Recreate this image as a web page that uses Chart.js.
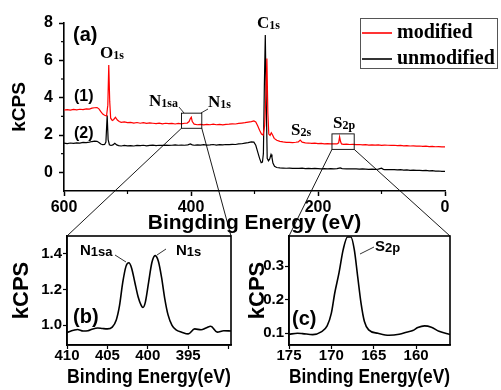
<!DOCTYPE html>
<html>
<head>
<meta charset="utf-8">
<script src="https://cdn.jsdelivr.net/npm/chart.js@4.4.0/dist/chart.umd.min.js"></script>
<style>
  html, body { margin: 0; padding: 0; background: #fff; }
  #wrap { position: relative; width: 501px; height: 390px; overflow: hidden; }
  canvas { position: absolute; }
</style>
</head>
<body>
<div id="wrap">
  <canvas id="main" width="501" height="390" style="left:0;top:0"></canvas>
  <canvas id="insetN" width="250" height="165" style="left:0;top:225px"></canvas>
  <canvas id="insetS" width="256" height="165" style="left:245px;top:225px"></canvas>
</div>
<script>
// survey spectrum, modified sample (1)
const modEnergy = [600, 595, 590, 585, 580, 575, 570, 565, 560, 556, 552, 548, 545, 542, 539, 536, 533, 531, 529.5, 528, 526.5,
  524, 522, 519, 516, 513, 510, 505, 500, 495, 490, 485, 480, 475, 470, 465, 460, 455, 450, 445, 440, 435, 430, 425, 420,
  415, 410, 406, 403, 401, 399.5, 398, 395, 390, 385, 380, 375, 370, 365, 360, 355, 350, 345, 340, 335, 330, 325, 320,
  315, 310, 305, 301, 298, 295, 292, 289, 286.5, 284, 282, 280.5, 279, 277.5, 275.5, 273.5, 271.5, 269, 265, 260, 255,
  250, 245, 240, 235, 231, 228, 225, 220, 215, 210, 205, 200, 195, 190, 185, 180, 175, 170, 167.5, 166, 164.5, 163, 160,
  155, 150, 145, 140, 135, 130, 125, 120, 115, 110, 105, 100, 95, 90, 85, 80, 75, 70, 65, 60, 55, 50, 45, 40, 35, 30,
  25, 20, 15, 10, 5, 0];
const modKcps = [3.34, 3.36, 3.33, 3.37, 3.35, 3.38, 3.36, 3.40, 3.39, 3.44, 3.46, 3.47, 3.40, 3.25, 3.12, 3.06, 3.02, 3.6, 5.75, 3.8, 2.9,
  2.78, 2.82, 2.95, 2.80, 2.72, 2.68, 2.70, 2.66, 2.68, 2.64, 2.67, 2.63, 2.66, 2.62, 2.65, 2.63, 2.61, 2.64, 2.60, 2.63, 2.61, 2.62, 2.59, 2.62,
  2.60, 2.63, 2.64, 2.72, 2.88, 2.95, 2.72, 2.58, 2.55, 2.57, 2.54, 2.57, 2.55, 2.58, 2.55, 2.57, 2.54, 2.57, 2.58, 2.60, 2.59, 2.62, 2.64,
  2.66, 2.69, 2.72, 2.75, 2.70, 2.50, 2.25, 2.05, 2.00, 2.5, 4.2, 6.10, 3.2, 2.05, 1.98, 2.12, 2.0, 1.82, 1.72, 1.66, 1.63,
  1.61, 1.60, 1.59, 1.61, 1.63, 1.73, 1.62, 1.58, 1.57, 1.55, 1.56, 1.54, 1.55, 1.53, 1.54, 1.52, 1.53, 1.52, 1.58, 1.90, 1.65, 1.52, 1.50,
  1.51, 1.49, 1.50, 1.48, 1.49, 1.47, 1.48, 1.46, 1.47, 1.46, 1.47, 1.44, 1.46, 1.45, 1.44, 1.45, 1.43, 1.44, 1.42, 1.43, 1.41, 1.42, 1.40, 1.41, 1.39, 1.40,
  1.38, 1.39, 1.37, 1.38, 1.36, 1.36];

// survey spectrum, unmodified sample (2)
const unmodEnergy = [600, 595, 590, 585, 580, 575, 570, 565, 560, 556, 552, 548, 545, 542, 539, 536, 534, 532, 530.5, 528.5, 526,
  523, 520, 517, 514, 510, 505, 500, 495, 490, 485, 480, 475, 470, 465, 460, 455, 450, 445, 440, 435, 430, 425, 420,
  415, 410, 405, 401, 398, 395, 390, 385, 380, 375, 370, 365, 360, 355, 350, 345, 340, 335, 330, 325, 320, 315, 310,
  305, 301, 298, 295, 292, 289.5, 287.5, 286, 284.5, 283, 281.5, 280, 278, 276, 274, 272.5, 271, 268.5, 265, 260, 255,
  250, 245, 240, 235, 230, 225, 220, 215, 210, 205, 200, 195, 190, 185, 180, 175, 170, 165, 162, 155, 150, 145, 140,
  135, 130, 125, 120, 115, 110, 105, 100, 97, 95, 90, 85, 80, 75, 70, 65, 60, 55, 50, 45, 40, 35, 30, 25, 20, 15, 10, 5, 0];
const unmodKcps = [1.56, 1.54, 1.57, 1.55, 1.58, 1.57, 1.60, 1.59, 1.62, 1.65, 1.67, 1.66, 1.60, 1.52, 1.48, 1.49, 1.62, 3.05, 1.75, 1.48, 1.44,
  1.47, 1.56, 1.47, 1.43, 1.41, 1.44, 1.42, 1.43, 1.41, 1.44, 1.43, 1.45, 1.42, 1.44, 1.46, 1.43, 1.45, 1.44, 1.46, 1.44, 1.45, 1.47, 1.45,
  1.46, 1.45, 1.47, 1.52, 1.47, 1.45, 1.47, 1.46, 1.48, 1.46, 1.47, 1.49, 1.46, 1.48, 1.47, 1.49, 1.48, 1.50, 1.49, 1.52, 1.53, 1.56, 1.59,
  1.63, 1.62, 1.45, 1.10, 0.75, 0.52, 0.55, 1.0, 4.6, 7.35, 3.8, 0.75, 0.62, 0.72, 0.95, 0.80, 0.50, 0.32, 0.26, 0.24, 0.23,
  0.22, 0.23, 0.21, 0.22, 0.21, 0.22, 0.20, 0.21, 0.20, 0.21, 0.20, 0.19, 0.20, 0.19, 0.20, 0.19, 0.20, 0.24, 0.20, 0.19, 0.18, 0.19, 0.18,
  0.17, 0.18, 0.17, 0.16, 0.17, 0.16, 0.17, 0.22, 0.16, 0.15, 0.14, 0.15, 0.14, 0.13, 0.14, 0.12, 0.13, 0.11, 0.12, 0.10, 0.11, 0.09, 0.10, 0.08, 0.09, 0.07, 0.07, 0.05, 0.05];

// inset (b): N1s region
const nEnergy = [410, 409.2, 408.7, 408, 407.4, 406.8, 406.2, 405.6, 405, 404.4, 403.9, 403.5, 403.1, 402.7, 402.35, 402.0, 401.6,
  401.2, 400.8, 400.6, 400.3, 399.9, 399.5, 399.1, 398.7, 398.3, 397.9, 397.5, 397.0, 396.5, 395.8, 395.0, 394.2, 393.4,
  392.8, 392.2, 391.4, 390.6, 389.7];
const nKcps = [0.96, 0.972, 0.977, 0.968, 0.97, 0.98, 0.985, 0.982, 0.98, 0.99, 1.03, 1.11, 1.24, 1.33, 1.35, 1.32, 1.24,
  1.16, 1.11, 1.10, 1.13, 1.24, 1.35, 1.39, 1.36, 1.27, 1.15, 1.06, 1.0, 0.975, 0.962, 0.952, 0.98, 0.975,
  0.985, 0.995, 0.962, 0.97, 0.968];
const nTickLabels = [410, 405, 400, 395];

// inset (c): S2p region
const sEnergy = [175, 174, 173.4, 172.2, 171.2, 170.5, 170.0, 169.6, 169.1, 168.6, 168.1, 167.7, 167.3, 166.9, 166.5, 166.1,
  165.6, 164.5, 163.2, 162.0, 161.0, 160.4, 159.8, 159.0, 158.2, 157.3, 156.0];
const sKcps = [0.097, 0.1, 0.099, 0.096, 0.104, 0.122, 0.16, 0.22, 0.28, 0.35, 0.387, 0.387, 0.35, 0.27, 0.19, 0.135,
  0.11, 0.1, 0.094, 0.097, 0.104, 0.108, 0.117, 0.122, 0.118, 0.106, 0.096];
const sTickLabels = [175, 170, 165, 160];

// zoom boxes drawn on the survey (eV range, kCPS range)
const nBox = { e: [415, 383], k: [2.36, 3.17] };
const sBox = { e: [178, 143], k: [1.23, 2.06] };

const SANS = "'Liberation Sans', Arial, sans-serif";
const SERIF = "'Liberation Serif', 'Times New Roman', serif";

function toPoints(xs, ys) {
  return xs.map((x, i) => ({ x: x, y: ys[i] }));
}

function subText(ctx, x, y, big, small, bigFont, smallFont) {
  ctx.font = bigFont;
  ctx.fillText(big, x, y);
  const w = ctx.measureText(big).width;
  ctx.font = smallFont;
  ctx.fillText(small, x + w, y + 1);
}

function line(ctx, x1, y1, x2, y2) {
  ctx.beginPath();
  ctx.moveTo(x1, y1);
  ctx.lineTo(x2, y2);
  ctx.stroke();
}

function insetChart(id, energy, kcps, tickLabels, xr, yr, yStep, yAxisWidth, padRight, titlePad, decorate) {
  return new Chart(document.getElementById(id), {
    type: 'line',
    data: {
      datasets: [{
        data: toPoints(energy, kcps),
        borderColor: '#000',
        borderWidth: 1.6,
        pointRadius: 0,
        cubicInterpolationMode: 'monotone'
      }]
    },
    options: {
      responsive: false,
      animation: false,
      devicePixelRatio: 1,
      layout: { padding: { left: 0, top: 11, right: padRight, bottom: 0 } },
      plugins: { legend: { display: false }, tooltip: { enabled: false } },
      scales: {
        x: {
          type: 'linear', reverse: true, min: xr[0], max: xr[1],
          ticks: { stepSize: 5, includeBounds: false, autoSkip: false, color: '#000', padding: -2,
                   callback: v => (tickLabels.includes(v) ? v : ''),
                   font: { family: SANS, size: 15, weight: 'bold' } },
          grid: { drawOnChartArea: false, tickLength: 4, tickColor: '#000', tickWidth: 1.2 },
          border: { color: '#000', width: 1.6 },
          title: { display: true, text: 'Binding Energy(eV)', color: '#000', padding: 0,
                   font: { family: SANS, size: 21, weight: 'bold' } },
          afterFit: s => { s.height = 45; }
        },
        y: {
          min: yr[0], max: yr[1],
          ticks: { stepSize: yStep, includeBounds: false, color: '#000', padding: 1,
                   callback: v => v.toFixed(1),
                   font: { family: SANS, size: 15, weight: 'bold' } },
          grid: { drawOnChartArea: false, tickLength: 4, tickColor: '#000', tickWidth: 1.2 },
          border: { color: '#000', width: 1.6 },
          title: { display: true, text: 'kCPS', color: '#000', padding: { top: titlePad, bottom: 0 },
                   font: { family: SANS, size: 22, weight: 'bold' } },
          afterFit: s => { s.width = yAxisWidth; }
        }
      }
    },
    plugins: [{
      id: 'insetDecor',
      afterDraw(chart) {
        const ctx = chart.ctx;
        const a = chart.chartArea;
        ctx.save();
        ctx.strokeStyle = '#000';
        ctx.lineWidth = 1.6;
        ctx.strokeRect(a.left, a.top, a.right - a.left, a.bottom - a.top);
        ctx.fillStyle = '#000';
        ctx.lineWidth = 0.8;
        decorate(ctx);
        ctx.restore();
      }
    }]
  });
}

const chartN = insetChart('insetN', nEnergy, nKcps, nTickLabels, [389.7, 410], [0.89, 1.5], 0.2, 67, 19, 9, ctx => {
  const big = 'bold 15px ' + SANS, small = 'bold 13px ' + SANS;
  subText(ctx, 80, 30, 'N', '1sa', big, small);
  subText(ctx, 176, 30, 'N', '1s', big, small);
  line(ctx, 115, 30, 126, 37);
  line(ctx, 166, 24, 157, 30);
  ctx.font = 'bold 20px ' + SANS;
  ctx.fillText('(b)', 73, 98);
});

const chartS = insetChart('insetS', sEnergy, sKcps, sTickLabels, [156, 175], [0.065, 0.39], 0.1, 44, 51, 0, ctx => {
  const big = 'bold 15px ' + SANS, small = 'bold 13px ' + SANS;
  subText(ctx, 130, 26, 'S', '2p', big, small);
  line(ctx, 115, 29, 129, 22);
  ctx.font = 'bold 20px ' + SANS;
  ctx.fillText('(c)', 47, 100);
});

const insetOffsets = [
  { chart: chartN, dx: 0, dy: 225, box: nBox },
  { chart: chartS, dx: 245, dy: 225, box: sBox }
];

const mainDecor = {
  id: 'mainDecor',
  afterDraw(chart) {
    const ctx = chart.ctx;
    const xs = chart.scales.x, ys = chart.scales.y;
    const a = chart.chartArea;
    ctx.save();
    ctx.strokeStyle = '#000';

    // minor ticks
    ctx.lineWidth = 1.2;
    [500, 300, 100].forEach(v => {
      const px = xs.getPixelForValue(v);
      line(ctx, px, a.bottom, px, a.bottom + 3);
    });
    [1, 3, 5, 7].forEach(v => {
      const py = ys.getPixelForValue(v);
      line(ctx, a.left - 3, py, a.left, py);
    });

    // zoom boxes and connector lines to the insets
    ctx.lineWidth = 0.9;
    insetOffsets.forEach(o => {
      const x1 = xs.getPixelForValue(o.box.e[0]), x2 = xs.getPixelForValue(o.box.e[1]);
      const y1 = ys.getPixelForValue(o.box.k[1]), y2 = ys.getPixelForValue(o.box.k[0]);
      ctx.strokeRect(x1, y1, x2 - x1, y2 - y1);
      const ia = o.chart.chartArea;
      line(ctx, x1, y2, ia.left + o.dx, ia.top + o.dy);
      line(ctx, x2, y2, ia.right + o.dx, ia.top + o.dy);
    });

    // peak labels
    ctx.fillStyle = '#000';
    const big = 'bold 17px ' + SERIF, small = 'bold 12px ' + SERIF;
    subText(ctx, 100, 58, 'O', '1s', big, small);
    subText(ctx, 257, 28, 'C', '1s', big, small);
    subText(ctx, 149, 106, 'N', '1sa', big, small);
    subText(ctx, 208, 107, 'N', '1s', big, small);
    subText(ctx, 291, 135, 'S', '2s', big, small);
    subText(ctx, 333, 128, 'S', '2p', big, small);
    ctx.lineWidth = 0.8;
    line(ctx, 179, 107, 184, 113);
    line(ctx, 201, 113, 208, 109);

    ctx.font = 'bold 20px ' + SANS;
    ctx.fillText('(a)', 73, 41);
    ctx.font = 'bold 16px ' + SANS;
    ctx.fillText('(1)', 74, 101);
    ctx.fillText('(2)', 74, 138);

    // legend
    ctx.strokeStyle = '#555';
    ctx.lineWidth = 1;
    ctx.strokeRect(360.5, 18.5, 137, 50);
    ctx.lineWidth = 1.6;
    ctx.strokeStyle = '#ff0000';
    line(ctx, 362, 33, 392, 33);
    ctx.strokeStyle = '#000';
    line(ctx, 362, 59, 392, 59);
    ctx.font = 'bold 20px ' + SERIF;
    ctx.fillText('modified', 397, 38);
    ctx.fillText('unmodified', 397, 64);
    ctx.restore();
  }
};

new Chart(document.getElementById('main'), {
  type: 'line',
  data: {
    datasets: [
      { label: 'modified', data: toPoints(modEnergy, modKcps), borderColor: '#ff0000',
        borderWidth: 1.2, pointRadius: 0, tension: 0 },
      { label: 'unmodified', data: toPoints(unmodEnergy, unmodKcps), borderColor: '#000',
        borderWidth: 1.2, pointRadius: 0, tension: 0 }
    ]
  },
  options: {
    responsive: false,
    animation: false,
    devicePixelRatio: 1,
    layout: { padding: { left: 0, top: 23, right: 56, bottom: 154 } },
    plugins: { legend: { display: false }, tooltip: { enabled: false } },
    scales: {
      x: {
        type: 'linear', reverse: true, min: 0, max: 600,
        ticks: { stepSize: 100, autoSkip: false, color: '#000', padding: 2,
                 callback: v => (v % 200 === 0 ? v : ''),
                 font: { family: SANS, size: 16, weight: 'bold' } },
        grid: { drawOnChartArea: false, tickLength: 5, tickWidth: 1.5,
                tickColor: c => (c.tick && c.tick.value % 200 === 0 ? '#000' : 'rgba(0,0,0,0)') },
        border: { color: '#000', width: 1.6 },
        title: { display: true, text: 'Bingding Energy (eV)', color: '#000', padding: 0,
                 font: { family: SANS, size: 21, weight: 'bold' } },
        afterFit: s => { s.height = 45; }
      },
      y: {
        min: -1, max: 8,
        ticks: { stepSize: 1, autoSkip: false, color: '#000', padding: 6,
                 callback: v => (v >= 0 && v % 2 === 0 ? v : ''),
                 font: { family: SANS, size: 16, weight: 'bold' } },
        grid: { drawOnChartArea: false, tickLength: 5, tickWidth: 1.5,
                tickColor: c => (c.tick && c.tick.value >= 0 && c.tick.value % 2 === 0 ? '#000' : 'rgba(0,0,0,0)') },
        border: { color: '#000', width: 1.6 },
        title: { display: true, text: 'kCPS', color: '#000', padding: { top: 8, bottom: 0 },
                 font: { family: SANS, size: 19, weight: 'bold' } },
        afterFit: s => { s.width = 64; }
      }
    }
  },
  plugins: [mainDecor]
});
</script>
</body>
</html>
